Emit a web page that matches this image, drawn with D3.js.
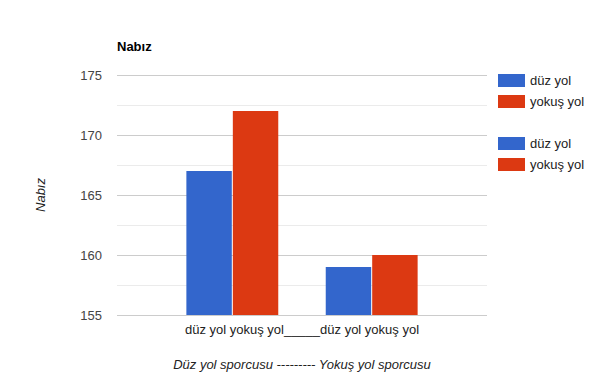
<!DOCTYPE html>
<html>
<head>
<meta charset="utf-8">
<script src="https://cdn.jsdelivr.net/npm/d3@7"></script>
<style>
  body { margin: 0; background: #fff; }
  text { font-family: "Liberation Sans", Arial, sans-serif; }
</style>
</head>
<body>
<div id="chart"></div>
<script>
// data
const categories = ["düz yol yokuş yol_____düz yol yokuş yol"];
const seriesNames = ["düz yol", "yokuş yol", "", "düz yol", "yokuş yol"];
const seriesValues = [167, 172, null, 159, 160];
const seriesColors = ["#3366cc", "#dc3912", "none", "#3366cc", "#dc3912"];
const yTicks = [155, 160, 165, 170, 175];

const W = 600, H = 390;
const mLeft = 117, mRight = 487, mTop = 75, mBottom = 315;

const svg = d3.select("#chart").append("svg")
    .attr("width", W)
    .attr("height", H);

const y = d3.scaleLinear().domain([155, 175]).range([mBottom, mTop]);

const x0 = d3.scaleBand()
    .domain(categories)
    .range([mLeft, mRight])
    .paddingInner(0)
    .paddingOuter(0.3);

const x1 = d3.scaleBand()
    .domain(d3.range(seriesNames.length))
    .range([0, x0.bandwidth()])
    .paddingInner(0.022);

// minor gridlines
const minor = d3.range(157.5, 175, 5);
svg.append("g").selectAll("line")
    .data(minor)
    .enter()
    .append("line")
    .attr("x1", mLeft)
    .attr("x2", mRight)
    .attr("y1", d => Math.round(y(d)) + 0.5)
    .attr("y2", d => Math.round(y(d)) + 0.5)
    .attr("stroke", "#ebebeb");

// major gridlines + labels
const yAxis = d3.axisLeft(y)
    .tickValues(yTicks)
    .tickSize(-(mRight - mLeft))
    .tickPadding(15);

const gy = svg.append("g")
    .attr("transform", `translate(${mLeft},0)`)
    .call(yAxis);
gy.select(".domain").remove();
gy.selectAll(".tick line").attr("stroke", "#cccccc");
gy.selectAll(".tick text")
    .attr("fill", "#444")
    .attr("font-size", 13)
    .attr("font-family", "Liberation Sans, Arial, sans-serif");

// bars
svg.append("g").selectAll("rect")
    .data(seriesValues.map((v, i) => ({ v, i })).filter(d => d.v != null))
    .enter()
    .append("rect")
    .attr("x", d => x0(categories[0]) + x1(d.i))
    .attr("y", d => y(d.v))
    .attr("width", x1.bandwidth())
    .attr("height", d => y(155) - y(d.v))
    .attr("fill", d => seriesColors[d.i]);

// baseline
svg.append("line")
    .attr("x1", mLeft).attr("x2", mRight)
    .attr("y1", mBottom + 0.5).attr("y2", mBottom + 0.5)
    .attr("stroke", "#cccccc");

// category label
svg.append("g").selectAll("text")
    .data(categories)
    .enter()
    .append("text")
    .attr("x", d => x0(d) + x0.bandwidth() / 2)
    .attr("y", 334)
    .attr("text-anchor", "middle")
    .attr("font-size", 13)
    .attr("fill", "#222")
    .text(d => d);

// title
svg.append("text")
    .attr("x", mLeft)
    .attr("y", 51)
    .attr("font-size", 13)
    .attr("font-weight", "bold")
    .attr("fill", "#000")
    .text("Nabız");

// axis titles
svg.append("text")
    .attr("x", (mLeft + mRight) / 2)
    .attr("y", 369)
    .attr("text-anchor", "middle")
    .attr("font-size", 13)
    .attr("font-style", "italic")
    .attr("fill", "#222")
    .text("Düz yol sporcusu --------- Yokuş yol sporcusu");

svg.append("text")
    .attr("transform", `translate(45,${(mTop + mBottom) / 2}) rotate(-90)`)
    .attr("text-anchor", "middle")
    .attr("font-size", 13)
    .attr("font-style", "italic")
    .attr("fill", "#222")
    .text("Nabız");

// legend
const legend = svg.append("g").selectAll("g")
    .data(seriesNames.map((n, i) => ({ n, i })))
    .enter()
    .append("g")
    .attr("transform", d => `translate(498,${74 + d.i * 21})`);

legend.filter(d => d.n !== "")
    .append("rect")
    .attr("width", 27)
    .attr("height", 13)
    .attr("fill", d => seriesColors[d.i]);

legend.filter(d => d.n !== "")
    .append("text")
    .attr("x", 32)
    .attr("y", 11)
    .attr("font-size", 13)
    .attr("fill", "#222")
    .text(d => d.n);
</script>
</body>
</html>
